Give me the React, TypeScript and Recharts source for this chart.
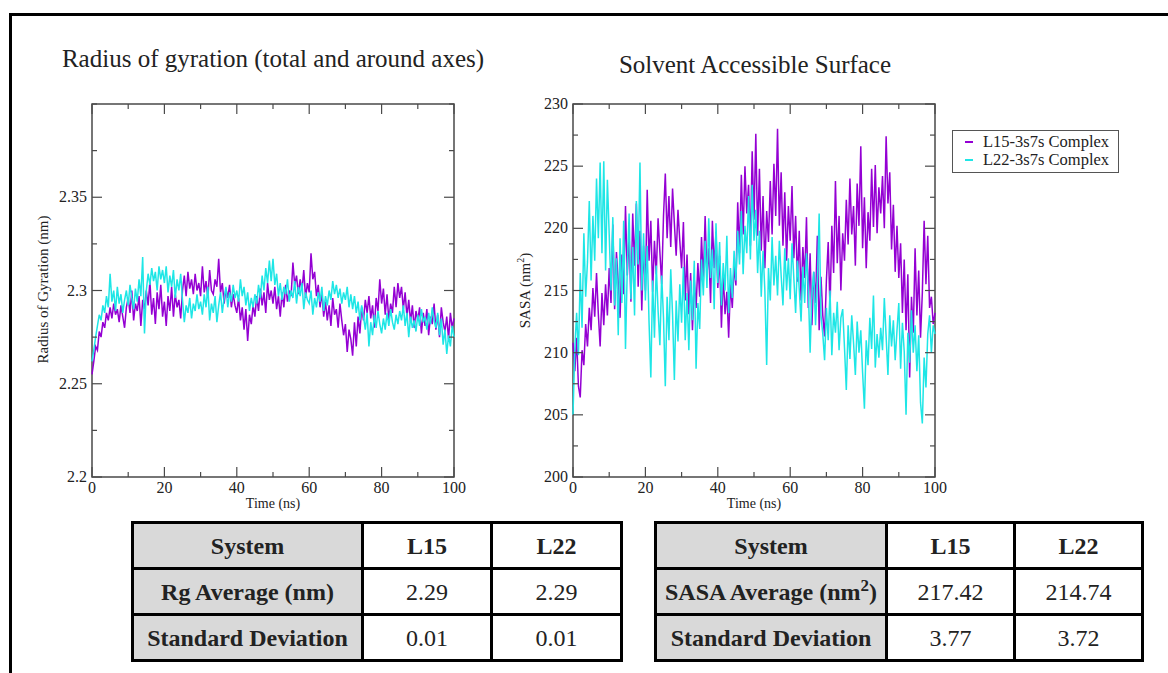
import React from "react";
import { LineChart, Line, XAxis, YAxis, ReferenceArea } from "recharts";

// sampled every 0.5 ns, 0..100 ns
const TIME_STEP = 0.5;

const rgL15 = [
  2.255, 2.262, 2.270, 2.268, 2.278, 2.275, 2.283, 2.280, 2.288, 2.284,
  2.291, 2.285, 2.293, 2.287, 2.290, 2.283, 2.292, 2.286, 2.280, 2.291,
  2.296, 2.288, 2.300, 2.284, 2.293, 2.289, 2.297, 2.281, 2.295, 2.290,
  2.300, 2.292, 2.305, 2.287, 2.296, 2.282, 2.299, 2.290, 2.303, 2.286,
  2.294, 2.281, 2.297, 2.289, 2.302, 2.286, 2.298, 2.291, 2.295, 2.285,
  2.300, 2.308, 2.297, 2.310, 2.301, 2.306, 2.298, 2.309, 2.300, 2.304,
  2.297, 2.313, 2.299, 2.305, 2.296, 2.311, 2.300, 2.298, 2.306, 2.302,
  2.317, 2.299, 2.304, 2.293, 2.301, 2.296, 2.303, 2.291, 2.298, 2.292,
  2.288, 2.296, 2.284, 2.291, 2.279, 2.290, 2.273, 2.287, 2.282, 2.292,
  2.286, 2.297, 2.289, 2.301, 2.292, 2.299, 2.288, 2.304, 2.295, 2.300,
  2.293, 2.302, 2.290, 2.297, 2.286, 2.299, 2.291, 2.303, 2.294, 2.300,
  2.297, 2.315, 2.303, 2.308, 2.298, 2.306, 2.300, 2.311, 2.296, 2.304,
  2.299, 2.320, 2.306, 2.310, 2.297, 2.303, 2.291, 2.299, 2.286, 2.294,
  2.284, 2.292, 2.281, 2.296, 2.287, 2.290, 2.280, 2.293, 2.284, 2.276,
  2.282, 2.267, 2.279, 2.274, 2.265, 2.283, 2.270, 2.286, 2.277, 2.291,
  2.284, 2.295, 2.288, 2.297, 2.285, 2.292, 2.280, 2.296, 2.289, 2.306,
  2.293, 2.301, 2.287, 2.298, 2.284, 2.293, 2.288, 2.302, 2.291, 2.304,
  2.296, 2.302, 2.290, 2.299, 2.286, 2.295, 2.283, 2.292, 2.280, 2.289,
  2.284, 2.291, 2.277, 2.288, 2.281, 2.290, 2.276, 2.286, 2.282, 2.293,
  2.279, 2.287, 2.275, 2.291, 2.283, 2.278, 2.286, 2.274, 2.288, 2.280,
  2.285,
];

const rgL22 = [
  2.262, 2.268, 2.275, 2.281, 2.287, 2.284, 2.292, 2.288, 2.297, 2.291,
  2.309, 2.294, 2.300, 2.289, 2.302, 2.293, 2.298, 2.288, 2.295, 2.300,
  2.292, 2.303, 2.296, 2.290, 2.301, 2.294, 2.306, 2.297, 2.318, 2.277,
  2.300, 2.309, 2.303, 2.312, 2.305, 2.310, 2.300, 2.313, 2.306, 2.311,
  2.304, 2.313, 2.299, 2.308, 2.302, 2.311, 2.296, 2.306, 2.300, 2.309,
  2.295, 2.283, 2.292, 2.288, 2.296, 2.285, 2.293, 2.289, 2.298, 2.290,
  2.294, 2.287, 2.298, 2.291, 2.302, 2.284, 2.293, 2.288, 2.297, 2.283,
  2.292, 2.299, 2.288, 2.296, 2.302, 2.291, 2.299, 2.294, 2.303, 2.296,
  2.300, 2.294, 2.306, 2.297, 2.302, 2.292, 2.299, 2.289, 2.296, 2.291,
  2.298, 2.293, 2.303, 2.296, 2.308, 2.300, 2.312, 2.304, 2.316, 2.305,
  2.317, 2.303, 2.309, 2.297, 2.304, 2.295, 2.302, 2.298, 2.306, 2.294,
  2.300, 2.296, 2.305, 2.293, 2.302, 2.297, 2.304, 2.290, 2.299, 2.295,
  2.293, 2.300, 2.287, 2.296, 2.291, 2.299, 2.294, 2.302, 2.289, 2.297,
  2.292, 2.300, 2.295, 2.305, 2.298, 2.303, 2.296, 2.301, 2.293, 2.299,
  2.295, 2.302, 2.291, 2.298, 2.290, 2.297, 2.288, 2.294, 2.284, 2.292,
  2.286, 2.279, 2.288, 2.270, 2.283, 2.276, 2.287, 2.280, 2.289, 2.282,
  2.277, 2.285, 2.279, 2.288, 2.281, 2.290, 2.283, 2.279, 2.287, 2.282,
  2.289, 2.284, 2.292, 2.281, 2.288, 2.275, 2.286, 2.280, 2.284, 2.278,
  2.287, 2.281, 2.290, 2.283, 2.286, 2.279, 2.288, 2.282, 2.291, 2.284,
  2.280, 2.288, 2.276, 2.285, 2.271, 2.279, 2.266, 2.276, 2.270, 2.281,
  2.275,
];

const sasaL15 = [
  210.8, 208.5, 211.2, 207.3, 206.4, 210.2, 209.0, 212.3, 210.5, 213.6,
  211.8, 215.2, 212.9, 216.4, 213.1, 210.5, 214.8, 212.2, 215.5, 213.0,
  216.8, 214.0, 220.3, 213.5, 218.1, 215.6, 212.8, 217.9, 214.7, 221.8,
  216.2, 219.5, 214.1, 221.2, 217.0, 222.0, 215.3, 219.8, 213.4, 218.6,
  215.0, 223.1, 217.4, 220.6, 214.9, 219.0, 216.3, 220.8, 218.1, 215.5,
  221.0, 224.4, 219.2, 222.6, 218.5, 223.2, 220.4, 217.8, 221.5, 219.0,
  216.8, 220.5, 214.2, 217.9, 213.1, 216.4, 211.8, 215.9, 213.6, 217.2,
  214.5, 219.3, 215.8, 221.0, 216.2, 218.4, 214.0, 220.6, 216.8, 219.7,
  215.2, 217.8, 212.0, 216.3, 213.1, 214.9, 211.2, 215.5, 213.6, 217.0,
  215.4, 222.1, 218.0, 224.3, 219.5, 225.0, 221.2, 223.5, 218.6, 226.2,
  220.7, 227.6, 219.4, 224.8, 218.2, 222.6, 216.8, 221.4, 218.9, 223.8,
  219.5, 225.2, 221.0, 228.0, 220.2, 224.5, 218.6, 222.9, 217.4, 221.8,
  219.0, 223.4, 217.6, 221.0, 215.7, 219.8, 214.2, 218.5, 216.0, 220.9,
  213.6, 218.0, 212.2, 216.5, 214.0, 219.4, 211.8, 216.1, 213.0, 211.3,
  215.8, 218.9, 213.5, 220.2, 216.4, 223.8, 217.2, 221.0, 215.0, 219.6,
  217.4, 222.3, 218.7, 224.0, 219.5, 221.8, 217.0, 223.6, 220.2, 226.6,
  218.4, 222.5, 216.8, 221.3, 219.0, 224.8, 220.1, 225.1, 219.6, 223.3,
  221.2, 224.2, 220.0, 227.4, 222.0, 224.5, 218.3, 221.9, 216.5, 220.2,
  216.0, 218.8, 213.2, 217.5, 211.8, 216.3, 208.0, 214.5, 211.6, 218.4,
  213.0, 216.6, 211.2, 214.8, 220.6, 215.5, 219.4, 213.6, 214.5, 212.3,
  213.2,
];

const sasaL22 = [
  205.0, 210.3, 213.2, 209.8, 216.4, 212.0, 219.6, 214.5, 217.3, 222.2,
  215.8, 221.0, 217.4, 224.0, 219.2, 225.3, 218.0, 225.4, 216.6, 223.9,
  219.5, 215.0, 220.9, 213.8, 217.6, 211.4, 219.2, 214.0, 220.6, 210.3,
  216.8, 221.2, 214.3, 218.5, 213.0, 222.2, 217.1, 225.3, 215.0, 219.6,
  214.2, 218.6, 212.5, 208.0, 215.8, 211.2, 217.0, 213.4, 210.6, 216.2,
  212.8, 207.3, 214.5, 211.0, 216.7, 213.1, 207.8, 214.2, 210.9, 215.5,
  212.4, 216.9, 211.0, 214.8, 210.2, 215.8, 212.6, 217.4, 208.7, 214.0,
  211.9, 217.5, 214.6, 219.0, 215.2, 220.8, 216.0, 218.3, 213.5, 220.4,
  215.6, 218.9, 213.8, 217.2, 215.0, 219.4, 213.2, 216.8, 214.4, 218.2,
  215.8, 219.8, 217.1, 221.4, 216.3, 220.2, 218.0, 222.6, 217.5, 223.5,
  219.0, 221.5, 216.4, 219.8, 214.5, 218.2, 215.0, 209.0, 216.8, 214.2,
  219.3, 215.4, 217.8, 214.6, 219.0, 216.2, 213.8, 218.4, 215.0, 217.6,
  214.3, 218.8, 216.0, 213.2, 217.4, 215.1, 212.5, 216.9, 214.0, 218.0,
  215.2, 210.0, 214.8, 216.5, 212.2, 215.6, 221.2, 213.0, 211.5, 209.4,
  213.6, 211.0, 215.0, 209.8, 213.2, 211.6, 214.1, 210.2, 212.8, 213.5,
  210.4, 207.0, 212.2, 209.5, 213.0, 210.8, 208.2, 212.5, 210.0, 211.8,
  208.4, 205.5, 211.0, 209.0, 212.8, 210.3, 214.6, 208.8, 211.5, 209.6,
  212.0, 210.2, 214.4, 211.3, 208.2, 213.0, 210.5, 212.6, 209.4, 211.8,
  214.0, 208.7, 212.4, 210.1, 205.0, 211.6, 209.2, 213.4, 210.0, 212.2,
  208.5, 211.4, 206.0, 204.3, 209.6, 207.2, 211.5, 213.0, 210.0, 212.2,
  211.5,
];

const xTicks = [0, 10, 20, 30, 40, 50, 60, 70, 80, 90, 100];
const xLabels = [0, 20, 40, 60, 80, 100];
const rgTicks = [2.2, 2.225, 2.25, 2.275, 2.3, 2.325, 2.35, 2.375, 2.4];
const rgLabels = [2.2, 2.25, 2.3, 2.35];
const sasaTicks = [200, 202.5, 205, 207.5, 210, 212.5, 215, 217.5, 220, 222.5, 225, 227.5, 230];
const sasaLabels = [200, 205, 210, 215, 220, 225, 230];
const seriesNames = ["L15-3s7s Complex", "L22-3s7s Complex"];

const rgTable = [
  ["System", "L15", "L22"],
  ["Rg Average (nm)", "2.29", "2.29"],
  ["Standard Deviation", "0.01", "0.01"],
];
const sasaTable = [
  ["System", "L15", "L22"],
  ["SASA Average (nm2)", "217.42", "214.74"],
  ["Standard Deviation", "3.77", "3.72"],
];

const rgData = rgL15.map((v, i) => ({ t: i * TIME_STEP, l15: v, l22: rgL22[i] }));
const sasaData = sasaL15.map((v, i) => ({ t: i * TIME_STEP, l15: v, l22: sasaL22[i] }));

const PURPLE = "#9400d3";
const CYAN = "#1ee6e6";
const FRAME = "#4a4a4a";
const SERIF = '"Liberation Serif", "Times New Roman", serif';
const X_AXIS_H = 30;
const Y_AXIS_W = 50;

type PanelProps = {
  data: { t: number; l15: number; l22: number }[];
  width: number;
  height: number;
  plot: { top: number; bottom: number; left: number; right: number };
  yDomain: [number, number];
  yTicks: number[];
  yLabels: number[];
};

function Panel({ data, width, height, plot, yDomain, yTicks, yLabels }: PanelProps) {
  const { top, bottom, left, right } = plot;
  const margin = {
    top,
    bottom: height - bottom - X_AXIS_H,
    left: left - Y_AXIS_W,
    right: width - right,
  };

  const xTick = (p: any) => {
    const x = p.payload.coordinate;
    const v = p.payload.value;
    const major = xLabels.includes(v);
    const len = major ? 10 : 5;
    return (
      <g key={`x${v}`}>
        <line x1={x} x2={x} y1={bottom} y2={bottom - len} stroke={FRAME} strokeWidth={1.2} />
        <line x1={x} x2={x} y1={top} y2={top + len} stroke={FRAME} strokeWidth={1.2} />
        {major && (
          <text x={x} y={bottom + 16} textAnchor="middle" fontSize={16} fontFamily={SERIF} fill="#222">
            {v}
          </text>
        )}
      </g>
    );
  };

  const yTick = (p: any) => {
    const y = p.payload.coordinate;
    const v = p.payload.value;
    const major = yLabels.includes(v);
    const len = major ? 10 : 5;
    return (
      <g key={`y${v}`}>
        <line x1={left} x2={left + len} y1={y} y2={y} stroke={FRAME} strokeWidth={1.2} />
        <line x1={right} x2={right - len} y1={y} y2={y} stroke={FRAME} strokeWidth={1.2} />
        {major && (
          <text x={left - 5} y={y + 5} textAnchor="end" fontSize={16} fontFamily={SERIF} fill="#222">
            {v}
          </text>
        )}
      </g>
    );
  };

  return (
    <LineChart width={width} height={height} data={data} margin={margin}>
      <XAxis
        dataKey="t"
        type="number"
        domain={[0, 100]}
        ticks={xTicks}
        interval={0}
        height={X_AXIS_H}
        axisLine={false}
        tickLine={false}
        tick={xTick}
      />
      <YAxis
        type="number"
        domain={yDomain}
        ticks={yTicks}
        interval={0}
        width={Y_AXIS_W}
        axisLine={false}
        tickLine={false}
        tick={yTick}
        allowDataOverflow
      />
      <Line
        dataKey="l15"
        name={seriesNames[0]}
        type="linear"
        stroke={PURPLE}
        strokeWidth={1.5}
        dot={false}
        isAnimationActive={false}
      />
      <Line
        dataKey="l22"
        name={seriesNames[1]}
        type="linear"
        stroke={CYAN}
        strokeWidth={1.5}
        dot={false}
        isAnimationActive={false}
      />
      <ReferenceArea
        x1={0}
        x2={100}
        y1={yDomain[0]}
        y2={yDomain[1]}
        fill="none"
        stroke={FRAME}
        strokeWidth={1.5}
        fillOpacity={0}
      />
    </LineChart>
  );
}

function StatsTable({ rows, left, widths }: { rows: string[][]; left: number; widths: number[] }) {
  const cell: React.CSSProperties = {
    border: "3px solid #000",
    height: 43,
    padding: 0,
    textAlign: "center",
    fontSize: 24,
    lineHeight: "28px",
  };
  const label = (s: string) =>
    s.endsWith("(nm2)") ? (
      <>
        {s.slice(0, -2)}
        <sup style={{ fontSize: 17, lineHeight: 0 }}>2</sup>)
      </>
    ) : (
      s
    );
  return (
    <table
      style={{
        position: "absolute",
        left,
        top: 521,
        borderCollapse: "collapse",
        fontFamily: SERIF,
        tableLayout: "fixed",
        width: widths.reduce((a, b) => a + b, 0),
      }}
    >
      <colgroup>
        {widths.map((w, i) => (
          <col key={i} style={{ width: w }} />
        ))}
      </colgroup>
      <tbody>
        {rows.map((r, ri) => (
          <tr key={ri}>
            {r.map((c, ci) => (
              <td
                key={ci}
                style={{
                  ...cell,
                  background: ci === 0 ? "#d9d9d9" : "#fff",
                  fontWeight: ci === 0 || ri === 0 ? "bold" : "normal",
                  whiteSpace: "nowrap",
                }}
              >
                {ci === 0 ? label(c) : c}
              </td>
            ))}
          </tr>
        ))}
      </tbody>
    </table>
  );
}

const abs = (s: React.CSSProperties): React.CSSProperties => ({ position: "absolute", ...s });

export default function App() {
  return (
    <div
      style={{
        position: "absolute",
        left: 0,
        top: 0,
        width: 1168,
        height: 673,
        overflow: "hidden",
        background: "#fff",
        fontFamily: SERIF,
        color: "#222",
      }}
    >
      <div
        style={abs({
          left: 9,
          top: 13,
          width: 1300,
          height: 800,
          borderTop: "3px solid #000",
          borderLeft: "3px solid #000",
        })}
      />

      <div style={abs({ left: 0, top: 0 })}>
        <Panel
          data={rgData}
          width={500}
          height={520}
          plot={{ top: 104, bottom: 477, left: 92, right: 454 }}
          yDomain={[2.2, 2.4]}
          yTicks={rgTicks}
          yLabels={rgLabels}
        />
      </div>
      <div style={abs({ left: 500, top: 0 })}>
        <Panel
          data={sasaData}
          width={640}
          height={520}
          plot={{ top: 104, bottom: 477, left: 73, right: 435 }}
          yDomain={[200, 230]}
          yTicks={sasaTicks}
          yLabels={sasaLabels}
        />
      </div>

      <div style={abs({ left: 0, width: 546, top: 45, textAlign: "center", fontSize: 25, whiteSpace: "nowrap" })}>
        Radius of gyration (total and around axes)
      </div>
      <div style={abs({ left: 555, width: 400, top: 51, textAlign: "center", fontSize: 25, whiteSpace: "nowrap" })}>
        Solvent Accessible Surface
      </div>

      <div style={abs({ left: 173, width: 200, top: 496, textAlign: "center", fontSize: 14 })}>Time (ns)</div>
      <div style={abs({ left: 654, width: 200, top: 496, textAlign: "center", fontSize: 14 })}>Time (ns)</div>

      <div
        style={abs({
          left: 43 - 100,
          width: 200,
          top: 281,
          textAlign: "center",
          fontSize: 15,
          transform: "rotate(-90deg)",
          whiteSpace: "nowrap",
        })}
      >
        Radius of Gyration (nm)
      </div>
      <div
        style={abs({
          left: 524 - 100,
          width: 200,
          top: 281,
          textAlign: "center",
          fontSize: 15,
          transform: "rotate(-90deg)",
          whiteSpace: "nowrap",
        })}
      >
        SASA (nm<sup style={{ fontSize: 10 }}>2</sup>)
      </div>

      <div
        style={abs({
          left: 952,
          top: 130,
          width: 167,
          height: 43,
          border: "1px solid #555",
          boxSizing: "border-box",
          fontSize: 16.5,
          lineHeight: "18px",
          paddingTop: 2,
        })}
      >
        {seriesNames.map((n, i) => (
          <div key={n} style={{ display: "flex", alignItems: "center", paddingLeft: 12, whiteSpace: "nowrap" }}>
            <span
              style={{
                display: "inline-block",
                width: 8,
                height: 1.5,
                background: i === 0 ? PURPLE : CYAN,
                marginRight: 10,
              }}
            />
            {n}
          </div>
        ))}
      </div>

      <StatsTable rows={rgTable} left={131} widths={[230, 129, 130]} />
      <StatsTable rows={sasaTable} left={654} widths={[231, 128, 128]} />
    </div>
  );
}
